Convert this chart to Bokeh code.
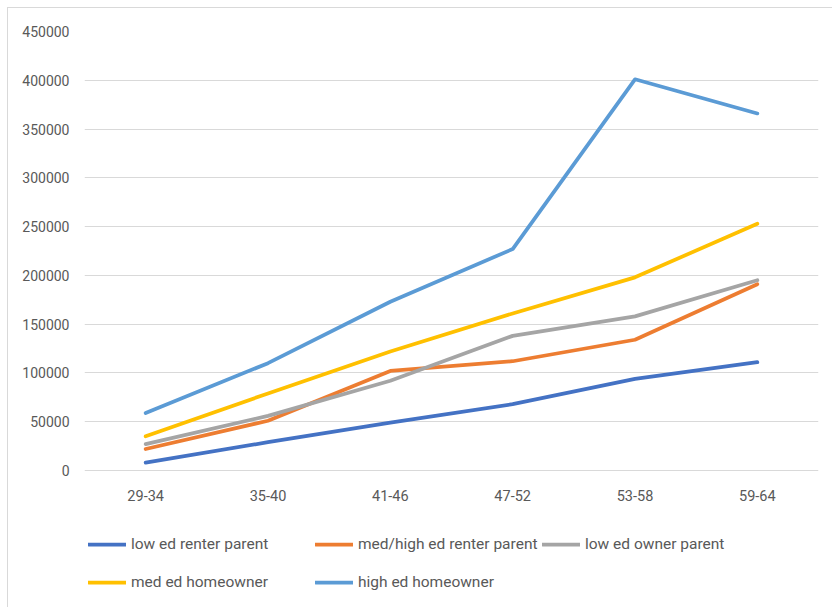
from bokeh.plotting import figure
from bokeh.models import FactorRange, Range1d, FixedTicker, NumeralTickFormatter, Legend, LegendItem
from bokeh.core.properties import value
from bokeh.embed import file_html
from bokeh.resources import INLINE

categories = ["29-34", "35-40", "41-46", "47-52", "53-58", "59-64"]
low_ed_renter_parent = [8000, 29000, 49000, 68000, 94000, 111000]
med_high_ed_renter_parent = [22000, 51000, 102000, 112000, 134000, 191000]
low_ed_owner_parent = [27000, 56000, 92000, 138000, 158000, 195000]
med_ed_homeowner = [35000, 79000, 122000, 161000, 198000, 253000]
high_ed_homeowner = [59000, 110000, 173000, 227000, 401000, 366000]
y_ticks = [0, 50000, 100000, 150000, 200000, 250000, 300000, 350000, 400000, 450000]

series = [
    ("low ed renter parent", low_ed_renter_parent, "#4472C4"),
    ("med/high ed renter parent", med_high_ed_renter_parent, "#ED7D31"),
    ("low ed owner parent", low_ed_owner_parent, "#A5A5A5"),
    ("med ed homeowner", med_ed_homeowner, "#FFC000"),
    ("high ed homeowner", high_ed_homeowner, "#5B9BD5"),
]

FONT = "Roboto"
TXT = "#595959"

# frame spans page y 31..608; value 0 sits at y 470 (439 px for 450000)
y_top = 450000
y_bottom = -y_top * 138 / 439

p = figure(
    x_range=FactorRange(*categories, range_padding=0),
    y_range=Range1d(y_bottom, y_top),
    width=825, height=600,
    output_backend="svg", toolbar_location=None,
    x_axis_location=None,
    min_border_left=76, min_border_right=15,
    min_border_top=23, min_border_bottom=0,
)
p.styles = {"margin-left": "7px", "margin-top": "7px",
            "border-left": "1px solid #d9d9d9", "border-top": "1px solid #d9d9d9"}
p.outline_line_color = None
p.background_fill_color = "white"
p.border_fill_color = "white"

p.xgrid.grid_line_color = None
p.ygrid.grid_line_color = "#d9d9d9"
p.ygrid.grid_line_width = 1
p.yaxis.ticker = FixedTicker(ticks=y_ticks)
p.yaxis.formatter = NumeralTickFormatter(format="0")

ax = p.yaxis[0]
ax.axis_line_color = None
ax.major_tick_line_color = None
ax.minor_tick_line_color = None
ax.major_tick_out = 0
ax.major_tick_in = 0
ax.minor_tick_out = 0
ax.major_label_text_font = FONT
ax.major_label_text_font_size = "14px"
ax.major_label_text_color = TXT
ax.major_label_standoff = 15

# category labels under the zero line
p.text(x=categories, y=[0] * len(categories), text=categories,
       text_font=value(FONT), text_font_size="14.5px", text_color=TXT,
       text_align="center", text_baseline="top", y_offset=19)

items = []
for name, vals, col in series:
    r = p.line(categories, vals, line_color=col, line_width=3.75,
               line_cap="round", line_join="round")
    items.append(LegendItem(label=name, renderers=[r]))

legend = Legend(
    items=items, orientation="horizontal", ncols=3,
    location=(4, 7),
    glyph_width=38, glyph_height=38, label_height=38, label_width=184,
    label_standoff=5, spacing=0, padding=0, margin=0,
    border_line_color=None, background_fill_alpha=0,
    label_text_font=FONT, label_text_font_size="15.5px", label_text_color=TXT,
)
p.add_layout(legend, "center")

open("out.html", "w").write(file_html(p, INLINE))
